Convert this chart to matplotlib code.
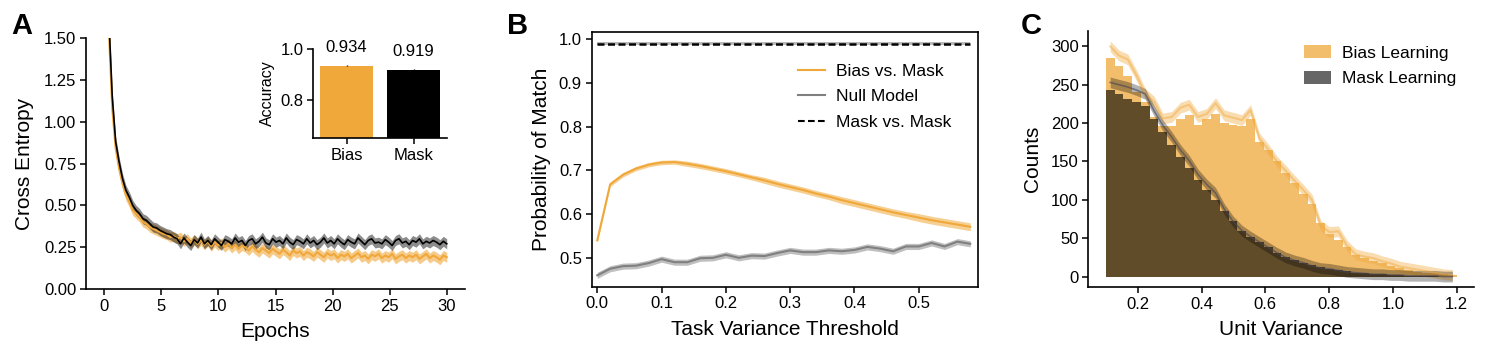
import numpy as np
import matplotlib
matplotlib.use("Agg")
import matplotlib.pyplot as plt
from matplotlib.patches import Patch
from matplotlib.lines import Line2D

plt.rcParams['font.family'] = ['Liberation Sans', 'DejaVu Sans']

ORANGE = '#F0A83A'

# ---------------- Panel A data ----------------
epochs = np.linspace(0.4, 30, 100)
mask_loss = [1.62, 1.15, 0.88, 0.76, 0.66, 0.59, 0.55, 0.50, 0.47, 0.45,
             0.42, 0.41, 0.39, 0.37, 0.365, 0.35, 0.34, 0.33, 0.325, 0.31,
             0.30, 0.27, 0.305, 0.28, 0.26, 0.295, 0.275, 0.31, 0.27, 0.29,
             0.265, 0.30, 0.28, 0.26, 0.295, 0.285, 0.27, 0.305, 0.28, 0.29,
             0.26, 0.29, 0.30, 0.27, 0.285, 0.31, 0.275, 0.265, 0.30, 0.28,
             0.29, 0.27, 0.305, 0.28, 0.265, 0.295, 0.285, 0.27, 0.30, 0.275,
             0.29, 0.265, 0.28, 0.305, 0.275, 0.29, 0.27, 0.30, 0.28, 0.265,
             0.295, 0.28, 0.27, 0.305, 0.285, 0.265, 0.29, 0.30, 0.275, 0.28,
             0.27, 0.295, 0.28, 0.26, 0.29, 0.30, 0.275, 0.285, 0.265, 0.29,
             0.28, 0.30, 0.27, 0.285, 0.275, 0.29, 0.28, 0.265, 0.285, 0.27]
bias_loss = [1.55, 1.08, 0.84, 0.72, 0.63, 0.56, 0.52, 0.47, 0.45, 0.43,
             0.40, 0.39, 0.37, 0.36, 0.35, 0.34, 0.33, 0.325, 0.31, 0.315,
             0.30, 0.31, 0.285, 0.30, 0.275, 0.295, 0.27, 0.29, 0.265, 0.285,
             0.255, 0.28, 0.26, 0.275, 0.25, 0.27, 0.245, 0.265, 0.24, 0.26,
             0.25, 0.23, 0.255, 0.235, 0.22, 0.245, 0.23, 0.215, 0.24, 0.225,
             0.21, 0.235, 0.22, 0.20, 0.23, 0.215, 0.225, 0.20, 0.22, 0.21,
             0.195, 0.22, 0.205, 0.19, 0.215, 0.20, 0.21, 0.185, 0.205, 0.195,
             0.21, 0.185, 0.20, 0.215, 0.19, 0.20, 0.18, 0.205, 0.195, 0.21,
             0.185, 0.20, 0.19, 0.21, 0.18, 0.195, 0.205, 0.185, 0.20, 0.19,
             0.205, 0.18, 0.195, 0.21, 0.185, 0.20, 0.19, 0.175, 0.20, 0.19]
loss_band = 0.03

acc_labels = ['Bias', 'Mask']
acc_values = [0.934, 0.919]
acc_err = [0.002, 0.002]

# ---------------- Panel B data ----------------
thresholds = np.arange(30) * 0.02
bias_vs_mask = [0.540, 0.668, 0.690, 0.704, 0.713, 0.718, 0.719, 0.715, 0.710, 0.704,
                0.698, 0.691, 0.684, 0.677, 0.669, 0.662, 0.655, 0.647, 0.640, 0.632,
                0.625, 0.618, 0.611, 0.604, 0.598, 0.592, 0.586, 0.581, 0.576, 0.571]
bias_vs_mask_sd = [0.005, 0.005, 0.005, 0.005, 0.005, 0.005, 0.005, 0.006, 0.006, 0.006,
                   0.006, 0.006, 0.006, 0.007, 0.007, 0.007, 0.007, 0.007, 0.007, 0.008,
                   0.008, 0.008, 0.008, 0.008, 0.008, 0.009, 0.009, 0.009, 0.009, 0.009]
null_model = [0.460, 0.475, 0.481, 0.482, 0.488, 0.497, 0.490, 0.490, 0.499, 0.500,
              0.507, 0.500, 0.505, 0.504, 0.511, 0.517, 0.513, 0.513, 0.517, 0.515,
              0.518, 0.525, 0.521, 0.515, 0.526, 0.526, 0.534, 0.526, 0.537, 0.532]
null_sd = 0.007
mask_vs_mask = 0.99
mask_vs_mask_sd = 0.004

# ---------------- Panel C data ----------------
bin_edges = np.linspace(0.1, 1.2, 41)
bias_hist = [285, 275, 262, 240, 228, 208, 196, 196, 205, 210,
             198, 205, 212, 200, 198, 196, 205, 175, 165, 150,
             135, 122, 108, 95, 70, 55, 48, 38, 28, 24,
             20, 18, 14, 11, 8, 6, 5, 4, 3, 2]
mask_hist = [243, 238, 232, 228, 222, 205, 188, 172, 156, 142,
             126, 113, 100, 85, 72, 60, 52, 45, 38, 31,
             26, 22, 18, 15, 12, 10, 8, 7, 5, 4,
             3, 3, 2, 2, 1, 1, 1, 1, 0, 0]
bias_line = [300, 288, 283, 262, 238, 228, 206, 208, 220, 224,
             208, 212, 226, 210, 207, 204, 217, 180, 166, 150,
             138, 125, 113, 100, 66, 58, 59, 40, 29, 26,
             24, 20, 17, 13, 11, 9, 7, 5, 3, 2]
mask_line = [253, 250, 247, 243, 238, 216, 197, 182, 165, 151,
             133, 120, 109, 88, 72, 60, 52, 45, 38, 31,
             25, 21, 18, 14, 11, 10, 8, 6, 5, 4,
             3, 3, 2, 2, 1, 1, 1, 1, 0, 0]
line_band = 7

# ---------------- Figure ----------------
fig = plt.figure(figsize=(14.88, 3.52), dpi=100)
W, H = 1488, 352

def ax_px(l, t, r, b):
    return fig.add_axes([l / W, 1 - b / H, (r - l) / W, (b - t) / H])

TICK = 12
LAB = 15

def style(ax, box=False):
    for s in ['left', 'bottom', 'top', 'right']:
        ax.spines[s].set_linewidth(1.2)
    if not box:
        ax.spines['top'].set_visible(False)
        ax.spines['right'].set_visible(False)
    ax.tick_params(direction='out', length=4, width=1.1, labelsize=TICK, pad=3)

# Panel A
axA = ax_px(86, 38, 465, 289)
style(axA)
e = np.asarray(epochs)
bl = np.asarray(bias_loss)
ml = np.asarray(mask_loss)
axA.fill_between(e, bl - loss_band, bl + loss_band, color=ORANGE, alpha=0.6, lw=0)
axA.plot(e, bl, color=ORANGE, lw=1.5)
axA.fill_between(e, ml - loss_band, ml + loss_band, color='k', alpha=0.45, lw=0)
axA.plot(e, ml, color='k', lw=1.2)
axA.set_xlim(-1.6, 31.6)
axA.set_ylim(0, 1.5)
axA.set_xticks([0, 5, 10, 15, 20, 25, 30])
axA.set_yticks([0, 0.25, 0.5, 0.75, 1.0, 1.25, 1.5])
axA.set_yticklabels(['%.2f' % v for v in [0, 0.25, 0.5, 0.75, 1.0, 1.25, 1.5]])
axA.set_xlabel('Epochs', fontsize=LAB, labelpad=6)
axA.set_ylabel('Cross Entropy', fontsize=LAB, labelpad=7)

# Inset
axI = ax_px(313, 49, 447, 138)
style(axI)
xi = np.arange(len(acc_labels))
axI.bar(xi, acc_values, width=0.8, color=[ORANGE, 'k'], yerr=acc_err,
        error_kw=dict(ecolor='k', elinewidth=1, capsize=0))
for xv, v in zip(xi, acc_values):
    axI.text(xv, v + 0.053, '%.3f' % v, ha='center', va='baseline', fontsize=TICK)
axI.set_xlim(-0.5, 1.5)
axI.set_ylim(0.65, 1.0)
axI.set_yticks([0.8, 1.0])
axI.set_yticklabels(['0.8', '1.0'])
axI.set_xticks(xi)
axI.set_xticklabels(acc_labels)
axI.set_ylabel('Accuracy', fontsize=11.5, labelpad=4)

# Panel B
axB = ax_px(591.7, 31.7, 977.7, 286.7)
style(axB, box=True)
t = np.asarray(thresholds)
bvm = np.asarray(bias_vs_mask)
bsd = np.asarray(bias_vs_mask_sd)
nm = np.asarray(null_model)
axB.fill_between(t, mask_vs_mask - mask_vs_mask_sd, mask_vs_mask + mask_vs_mask_sd,
                 color='gray', alpha=0.55, lw=0)
axB.plot(t, np.full_like(t, mask_vs_mask), color='k', lw=1.8, ls='--', dashes=(2.8, 1.4))
axB.fill_between(t, bvm - bsd, bvm + bsd, color=ORANGE, alpha=0.55, lw=0)
axB.plot(t, bvm, color=ORANGE, lw=1.5)
axB.fill_between(t, nm - null_sd, nm + null_sd, color='gray', alpha=0.5, lw=0)
axB.plot(t, nm, color='gray', lw=1.5)
axB.set_xlim(-0.0087, 0.5916)
axB.set_ylim(0.434, 1.017)
axB.set_xticks([0, 0.1, 0.2, 0.3, 0.4, 0.5])
axB.set_yticks([0.5, 0.6, 0.7, 0.8, 0.9, 1.0])
axB.set_xlabel('Task Variance Threshold', fontsize=LAB, labelpad=6)
axB.set_ylabel('Probability of Match', fontsize=LAB, labelpad=6)
hB = [Line2D([], [], color=ORANGE, lw=1.5),
      Line2D([], [], color='gray', lw=1.5),
      Line2D([], [], color='k', lw=1.5, ls='--', dashes=(3.2, 1.6))]
axB.legend(hB, ['Bias vs. Mask', 'Null Model', 'Mask vs. Mask'], loc='upper left',
           bbox_to_anchor=(0.535, 0.875), frameon=False, fontsize=12.5,
           handlelength=1.55, handletextpad=0.6, labelspacing=0.6,
           borderpad=0, borderaxespad=0)

# Panel C
axC = ax_px(1088.3, 31, 1474, 287.3)
style(axC)
centers = 0.5 * (bin_edges[:-1] + bin_edges[1:])
axC.stairs(bias_hist, bin_edges, fill=True, color=ORANGE, alpha=0.75, lw=0)
bln = np.asarray(bias_line, dtype=float)
axC.fill_between(centers, bln - line_band, bln + line_band, color=ORANGE, alpha=0.4, lw=0)
axC.plot(centers, bln, color=ORANGE, alpha=0.45, lw=1.5)
axC.stairs(mask_hist, bin_edges, fill=True, color='k', alpha=0.6, lw=0)
mln = np.asarray(mask_line, dtype=float)
axC.fill_between(centers, mln - line_band, mln + line_band, color='k', alpha=0.3, lw=0)
axC.plot(centers, mln, color='#444455', alpha=0.6, lw=1.2)
axC.set_xlim(0.045, 1.254)
axC.set_ylim(-14, 320)
axC.set_xticks([0.2, 0.4, 0.6, 0.8, 1.0, 1.2])
axC.set_yticks([0, 50, 100, 150, 200, 250, 300])
axC.set_xlabel('Unit Variance', fontsize=LAB, labelpad=6)
axC.set_ylabel('Counts', fontsize=LAB, labelpad=6)
hC = [Patch(facecolor=ORANGE, alpha=0.75), Patch(facecolor='k', alpha=0.6)]
axC.legend(hC, ['Bias Learning', 'Mask Learning'], loc='upper left',
           bbox_to_anchor=(0.56, 0.945), frameon=False, fontsize=12.5,
           handlelength=1.55, handleheight=0.75, handletextpad=0.6, labelspacing=0.6,
           borderpad=0, borderaxespad=0)

# Panel letters
for x, s in [(11, 'A'), (507, 'B'), (1021, 'C')]:
    fig.text(x / W, 1 - 33.5 / H, s, fontsize=21, fontweight='bold', ha='left', va='baseline')

fig.savefig('out.png', dpi=100)
